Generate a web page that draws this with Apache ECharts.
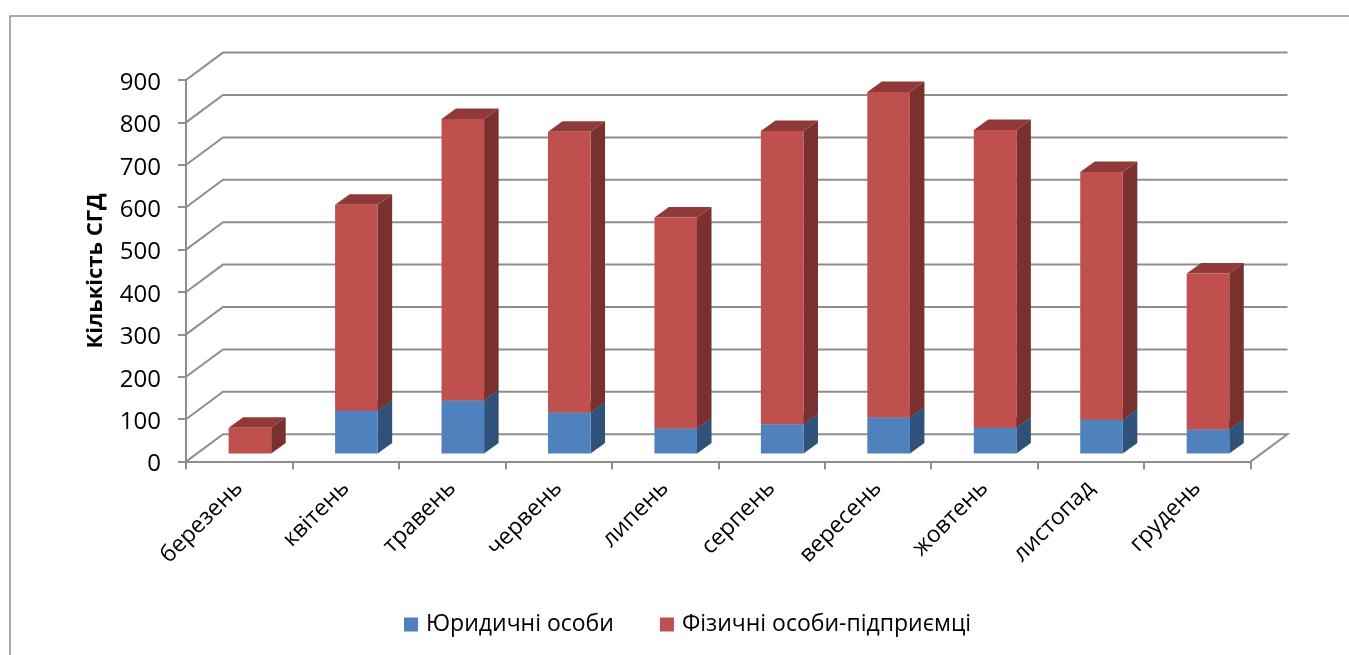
<!DOCTYPE html>
<html><head><meta charset="utf-8">
<style>html,body{margin:0;padding:0;background:#fff;overflow:hidden}#c{width:1349px;height:655px}</style>
<script src="https://cdn.jsdelivr.net/npm/echarts@6/dist/echarts.min.js"></script>
</head><body><div id="c"></div>
<script>
const months = ['березень','квітень','травень','червень','липень','серпень','вересень','жовтень','листопад','грудень'];
const legal = [0,101,125,97,59,69,85,61,80,57];
const persons = [61,486,664,662,498,692,768,702,584,368];
const ticks = [0,100,200,300,400,500,600,700,800,900];
const FONT = '"Open Sans", sans-serif';
const GRAY = '#8e8e8e';
const wallDx = 37, wallDy = -27.4;
const barShiftX = 10.7, barShiftY = -8, depthX = 14.5, depthY = -10.5, barShare = 0.4;

function barRender(front, side, top) {
  return function (params, api) {
    const i = api.value(0), a = api.value(1), b = api.value(2);
    if (b <= a) return null;
    const w = api.size([1, 0])[0] * barShare;
    const p0 = api.coord([i, a]), p1 = api.coord([i, b]);
    const xl = p0[0] + barShiftX - w / 2, xr = xl + w;
    const yb = p0[1] + barShiftY, yt = p1[1] + barShiftY;
    const poly = (pts, fill) => ({ type: 'polygon', shape: { points: pts }, style: { fill: fill } });
    return { type: 'group', children: [
      poly([[xr, yb], [xr + depthX, yb + depthY], [xr + depthX, yt + depthY], [xr, yt]], side),
      poly([[xl, yt], [xr, yt], [xr + depthX, yt + depthY], [xl + depthX, yt + depthY]], top),
      poly([[xl, yb], [xr, yb], [xr, yt], [xl, yt]], front)
    ] };
  };
}
function wallRender(params, api) {
  const v = api.value(1), cs = params.coordSys;
  const y = api.coord([0, v])[1], x0 = cs.x, x1 = cs.x + cs.width;
  const st = { stroke: GRAY, lineWidth: 2, fill: 'none' };
  const pts = [[x0, y], [x0 + wallDx, y + wallDy], [x1 + wallDx, y + wallDy]];
  if (v === 0) pts.push([x1, y]);
  return { type: 'polyline', shape: { points: pts }, style: st };
}
const legalData = months.map((m, i) => [i, 0, legal[i]]);
const personData = months.map((m, i) => [i, legal[i], legal[i] + persons[i]]);

const chart = echarts.init(document.getElementById('c'), null, { renderer: 'canvas' });
chart.setOption({
  animation: false,
  backgroundColor: '#fff',
  graphic: [{ type: 'rect', silent: true, z: 0, shape: { x: 10, y: 16, width: 1400, height: 700 }, style: { fill: 'none', stroke: '#8e8e8e', lineWidth: 1.5 } }],
  legend: {
    left: 399, top: 608, itemWidth: 14, itemHeight: 14, itemGap: 46, icon: 'rect',
    textStyle: { fontFamily: FONT, fontSize: 23, color: '#000', padding: [0, 0, 0, 3] },
    data: ['Юридичні особи', 'Фізичні особи-підприємці']
  },
  grid: { left: 186, right: 98.5, top: 80, bottom: 193.4 },
  xAxis: {
    type: 'category', data: months, boundaryGap: true,
    axisLine: { lineStyle: { color: GRAY, width: 2 } },
    axisTick: { show: true, alignWithLabel: false, length: 8, lineStyle: { color: GRAY, width: 2 } },
    axisLabel: { rotate: 45, interval: 0, fontFamily: FONT, fontSize: 23, color: '#000', margin: 23 }
  },
  yAxis: {
    type: 'value', min: 0, max: 900, interval: 100,
    name: 'Кількість СГД', nameLocation: 'middle', nameGap: 79,
    nameTextStyle: { fontFamily: FONT, fontSize: 22, fontWeight: 'bold', color: '#000' },
    axisLine: { show: true, lineStyle: { color: GRAY, width: 2 } },
    axisTick: { show: true, length: 8, lineStyle: { color: GRAY, width: 2 } },
    axisLabel: { margin: 25, formatter: '{n|{value}}', rich: { n: { fontFamily: FONT, fontSize: 24, color: '#000', padding: [6, 0, 0, 0] } } },
    splitLine: { show: false }
  },
  series: [
    { type: 'custom', name: 'wall', silent: true, clip: false, z: 1, renderItem: wallRender, encode: { x: 0, y: 1 }, data: ticks.map(t => [0, t]) },
    { type: 'custom', name: 'Юридичні особи', clip: false, z: 3, itemStyle: { color: '#4F81BD' }, renderItem: barRender('#4F81BD', '#30527A', '#3A5F8C'), encode: { x: 0, y: [1, 2] }, data: legalData },
    { type: 'custom', name: 'Фізичні особи-підприємці', clip: false, z: 4, itemStyle: { color: '#C0504D' }, renderItem: barRender('#C0504D', '#7A302E', '#8F3A38'), encode: { x: 0, y: [1, 2] }, data: personData }
  ]
});
</script></body></html>
